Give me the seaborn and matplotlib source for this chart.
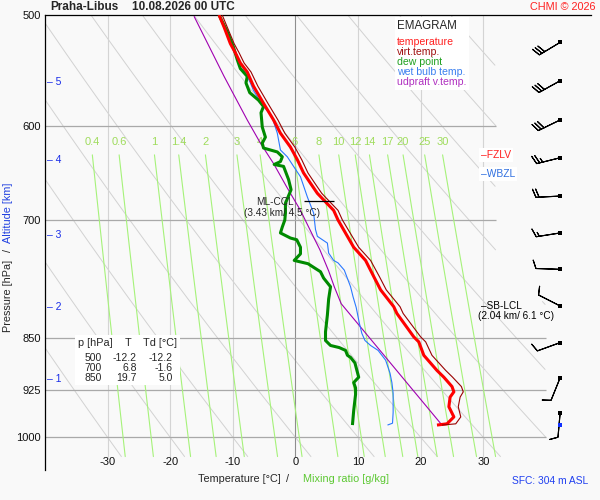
import numpy as np
import pandas as pd
import matplotlib
matplotlib.use("Agg")
import matplotlib.pyplot as plt
import matplotlib.transforms as mtransforms
from matplotlib.patches import Rectangle
from matplotlib.ticker import NullLocator
import seaborn as sns

# ---------------- data ----------------
temp_p = [980, 978, 967, 951, 936, 928, 920, 906, 896, 874, 855, 848, 816, 807, 785, 768, 748, 732, 700, 689,
          670, 659, 648, 634, 621, 607, 594, 578, 562, 549, 541, 532, 524, 510, 500]
temp_t = [22.6, 24.2, 25.3, 24.5, 24.7, 25.3, 25.0, 23.7, 22.6, 20.5, 19.7, 18.9, 16.2, 15.7, 13.6, 12.5, 11.2, 9.3, 6.8, 6.1,
          3.5, 2.4, 1.3, 0.3, -0.8, -2.4, -3.5, -5.1, -6.7, -7.7, -8.8, -9.6, -10.4, -11.4, -12.2]
virt_t = [23.4, 25.6, 26.4, 26.0, 26.3, 26.8, 26.5, 25.1, 24.0, 21.8, 20.8, 20.0, 17.2, 16.7, 14.5, 13.4, 12.0, 10.1, 7.5, 6.8,
          4.2, 3.1, 2.0, 1.0, -0.1, -1.7, -2.8, -4.4, -6.0, -7.1, -8.2, -9.0, -9.8, -10.9, -11.7]

dew_p = [980, 957, 932, 922, 914, 906, 885, 877, 874, 867, 863, 860, 853, 841, 818, 797, 781, 770, 762, 757,
         752, 748, 740, 732, 723, 721, 715, 708, 700, 692, 681, 666, 655, 641, 639, 636, 631, 626, 622, 617,
         611, 601, 587, 581, 575, 568, 559, 553, 546, 538, 527, 515, 500]
dew_t = [9.1, 9.3, 9.6, 9.6, 9.3, 10.1, 9.5, 8.8, 8.3, 8.0, 7.0, 5.6, 4.8, 4.8, 5.1, 5.3, 5.6, 4.5, 4.0, 3.0,
         2.0, -0.2, 0.8, 0.8, 0.2, -0.8, -2.4, -2.1, -1.7, -1.6, -1.6, -0.7, -1.1, -1.9, -3.4, -2.4, -2.1, -2.9, -5.1, -5.3,
         -4.8, -5.3, -5.5, -5.1, -5.9, -7.3, -7.9, -7.7, -8.8, -9.3, -9.9, -10.8, -12.2]

wet_p = [980, 977, 960, 930, 914, 900, 881, 867, 860, 853, 843, 829, 808, 794, 781, 760, 751, 748, 739, 727,
         719, 711, 692, 674, 652, 641, 631, 624, 607, 590, 581, 566, 559, 553, 541, 530, 515, 500]
wet_t = [14.7, 15.5, 15.6, 15.6, 15.4, 15.1, 14.4, 13.2, 12.0, 11.1, 10.6, 10.2, 9.7, 9.2, 8.8, 7.8, 6.8, 6.1, 5.3, 5.1,
         3.5, 3.2, 2.9, 1.9, 0.8, -0.3, -1.3, -2.4, -2.9, -3.8, -5.1, -6.7, -7.2, -7.7, -8.8, -9.9, -10.9, -12.2]

updraft_p = [980, 803, 781, 761, 735, 720, 689, 663, 638, 617, 594, 553, 501]
updraft_t = [23.4, 7.3, 6.2, 5.3, 3.9, 2.9, 0.8, -1.4, -3.5, -5.6, -7.7, -11.4, -16.2]

wind_p = [523, 557, 594, 632, 673, 715, 759, 806, 856, 907, 961]
wind_dir = [239, 241, 244, 256, 267, 261, 272, 297, 250, 202, 185]
wind_spd = [30, 30, 30, 25, 20, 15, 10, 10, 10, 10, 10]
sfc_p = 980

pressure_ticks = [500, 600, 700, 850, 925, 1000]
temp_ticks = [-30, -20, -10, 0, 10, 20, 30]
mixing_ratios = [0.4, 0.6, 1, 1.4, 2, 3, 4, 6, 8, 10, 12, 14, 17, 20, 25, 30]
dry_adiabat_t1000 = list(range(-30, 170, 10))
altitude_km = [1, 2, 3, 4, 5]
altitude_p = [908, 808, 717, 634, 558]

table_rows = [("500", "-12.2", "-12.2"), ("700", "6.8", "-1.6"), ("850", "19.7", "5.0")]
fzlv_p, wbzl_p = 629, 649
ccl_p, ccl_span = 679, (1.3, 6.2)
sblcl_p = 806

# ---------------- styling ----------------
sns.set_theme(style="white")
plt.rcParams["font.family"] = ["Liberation Sans", "DejaVu Sans"]

BG = "#f9f9f9"
W, H = 600, 500
def fx(x): return x / W
def fy(y): return 1 - y / H

fig = plt.figure(figsize=(6, 5), dpi=100, facecolor=BG)
ax = fig.add_axes([45 / W, 30 / H, 546 / W, 455 / H])
ax.set_facecolor(BG)
ax.set_yscale("log")

P_TOP, P_BOT = 500, 1055
T_L, T_R = -40, 47.2
P_GRID_BOT = 1032

# dry adiabats
pl = np.geomspace(P_TOP, P_GRID_BOT, 300)
for t0 in dry_adiabat_t1000:
    T = (t0 + 273.15) * (pl / 1000.0) ** 0.2857 - 273.15
    lim = np.where(pl >= 800, 40, 32)
    T = np.where((T >= T_L) & (T <= lim), T, np.nan)
    ax.plot(T, pl, color="#d2d2d2", lw=0.7, zorder=1)

# mixing ratio lines
pm = np.geomspace(629, P_GRID_BOT, 60)
for w in mixing_ratios:
    e = w * pm / (622.0 + w)
    a = np.log(e / 6.112)
    td = 243.5 * a / (17.67 - a)
    ax.plot(td, pm, color="#a6f27a", lw=0.8, zorder=1.2)
    ax.text(td[0], 616, f"{w:g}", color="#9fdc5c", fontsize=8, ha="center", va="center", zorder=1.3)

# grid lines
ax.vlines([t for t in temp_ticks if t != 0], P_TOP, P_GRID_BOT, colors="#d4d4d4", lw=0.8, zorder=1.1)
ax.vlines([0], P_TOP, P_GRID_BOT, colors="#8e8e8e", lw=0.8, zorder=1.1)
for p in pressure_ticks[1:]:
    ax.hlines(p, T_L, 32 if p < 800 else 40, colors="#a9a9a9", lw=0.9, zorder=1.1)

# profiles
def prof(p, t, color, lw, z):
    df = pd.DataFrame({"T": t, "p": p})
    sns.lineplot(data=df, x="T", y="p", sort=False, estimator=None, color=color,
                 lw=lw, ax=ax, zorder=z, legend=False, solid_capstyle="butt")

prof(updraft_p, updraft_t, "#a000b0", 0.8, 3)
prof(wet_p, wet_t, "#2a78ff", 0.8, 3.1)
prof(dew_p, dew_t, "#008a00", 2.2, 3.2)
prof(temp_p, temp_t, "#ff0000", 2.2, 3.3)
prof(temp_p, virt_t, "#9a0000", 0.8, 3.4)

# CCL marker
ax.hlines(ccl_p, ccl_span[0], ccl_span[1], colors="black", lw=0.9, zorder=4)
ax.text(-3.2, ccl_p + 1, "ML-CCL", fontsize=7.2, ha="center", va="center", zorder=4)
ax.text(-2.1, ccl_p + 13, "(3.43 km/ 4.5 °C)", fontsize=7.2, ha="center", va="center", zorder=4)

ax.set_xlim(T_L, T_R)
ax.set_ylim(P_BOT, P_TOP)
ax.set_xlabel("")
ax.set_ylabel("")
ax.set_xticks([])
ax.set_yticks(pressure_ticks)
ax.set_yticklabels([str(p) for p in pressure_ticks])
ax.yaxis.set_minor_locator(NullLocator())
ax.tick_params(axis="y", length=0, pad=3, labelsize=8, labelcolor="#111111")
for s in ["right", "bottom"]:
    ax.spines[s].set_visible(False)
for s in ["left", "top"]:
    ax.spines[s].set_color("black")
    ax.spines[s].set_linewidth(0.9)

# x tick labels inside
for t in temp_ticks:
    ax.text(t, 1041, f"{t}", fontsize=8, ha="center", va="center", color="#111111")

# altitude scale
bt = mtransforms.blended_transform_factory(ax.transAxes, ax.transData)
for km, p in zip(altitude_km, altitude_p):
    ax.text(2 / 546, p, f"– {km}", transform=bt, fontsize=7.5, color="#1a2ee8", ha="left", va="center")

# wind barbs
dr = np.deg2rad(wind_dir)
spd = np.array(wind_spd, float)
u = -spd * np.sin(dr)
v = -spd * np.cos(dr)
bx = (560 - 295) / 62.7 * 10
ax.barbs(np.full(len(wind_p), bx), wind_p, u, v, length=5.9, pivot="tip", color="black",
         linewidth=0.8, sizes=dict(spacing=0.13, height=0.34), zorder=5)
ax.scatter(np.full(len(wind_p), bx), wind_p, marker="s", s=5, color="black", linewidths=0, zorder=6)
ax.scatter([bx], [sfc_p], marker="s", s=6, color="#1030ff", linewidths=0, zorder=6)

# ---------- figure level texts ----------
fig.text(fx(50), fy(7.5), "Praha-Libus", fontsize=8.5, fontweight="bold", ha="left", va="center")
fig.text(fx(132), fy(7.5), "10.08.2026 00 UTC", fontsize=8.5, fontweight="bold", ha="left", va="center")
fig.text(fx(596), fy(7), "CHMI © 2026", fontsize=7.8, color="#ff2020", ha="right", va="center")

# legend box
fig.add_artist(Rectangle((fx(395), fy(90)), 74 / W, 73 / H, transform=fig.transFigure,
                         facecolor="white", edgecolor="none", zorder=3))
fig.text(fx(397), fy(26), "EMAGRAM", fontsize=8.3, ha="left", va="center", zorder=4)
leg = [("temperature", "#ff2020"), ("virt.temp.", "#a01010"), ("dew point", "#20a020"),
       ("wet bulb temp.", "#3a7ff0"), ("udpraft v.temp.", "#b030c0")]
for i, (lab, c) in enumerate(leg):
    fig.text(fx(397), fy(42 + 10 * i), lab, fontsize=7.6, color=c, ha="left", va="center", zorder=4)

# table box
fig.add_artist(Rectangle((fx(75), fy(385)), 105 / W, 50 / H, transform=fig.transFigure,
                         facecolor="white", edgecolor="none", zorder=3))
fig.text(fx(78), fy(343), "p [hPa]", fontsize=7.8, ha="left", va="center", zorder=4)
fig.text(fx(128), fy(343), "T", fontsize=7.8, ha="center", va="center", zorder=4)
fig.text(fx(143), fy(343), "Td [°C]", fontsize=7.8, ha="left", va="center", zorder=4)
for i, (a, b, c) in enumerate(table_rows):
    yy = fy(358 + 10 * i)
    fig.text(fx(102), yy, a, fontsize=7.5, ha="right", va="center", zorder=4)
    fig.text(fx(137), yy, b, fontsize=7.5, ha="right", va="center", zorder=4)
    fig.text(fx(173), yy, c, fontsize=7.5, ha="right", va="center", zorder=4)

# level labels
ax.text(29.6, fzlv_p, "–FZLV", fontsize=7.4, color="#ff2020", ha="left", va="center", zorder=6,
        bbox=dict(facecolor="white", edgecolor="none", pad=1.2))
ax.text(29.6, wbzl_p, "–WBZL", fontsize=7.4, color="#3070e0", ha="left", va="center", zorder=6,
        bbox=dict(facecolor="white", edgecolor="none", pad=1.2))
ax.text(29.6, sblcl_p, "–SB-LCL", fontsize=7.2, color="black", ha="left", va="center", zorder=6)
ax.text(35.2, sblcl_p + 13, "(2.04 km/ 6.1 °C)", fontsize=7.2, color="black", ha="center", va="center", zorder=6)

# axis labels
fig.text(fx(197.7), fy(479), "Temperature [°C]", fontsize=7.8, ha="left", va="center")
fig.text(fx(288), fy(479), "/", fontsize=7.8, ha="center", va="center")
fig.text(fx(302.7), fy(479), "Mixing ratio [g/kg]", fontsize=7.8, color="#5cc832", ha="left", va="center")
fig.text(fx(8), fy(296), "Pressure [hPa]", fontsize=7.8, rotation=90, ha="center", va="center")
fig.text(fx(8), fy(251), "/", fontsize=7.8, rotation=90, ha="center", va="center")
fig.text(fx(8), fy(213), "Altitude [km]", fontsize=7.8, rotation=90, color="#2040e0", ha="center", va="center")
fig.text(fx(512), fy(481), "SFC: 304 m ASL", fontsize=7.4, color="#2040f0", ha="left", va="center")

fig.savefig("out.png", dpi=100, facecolor=BG)
